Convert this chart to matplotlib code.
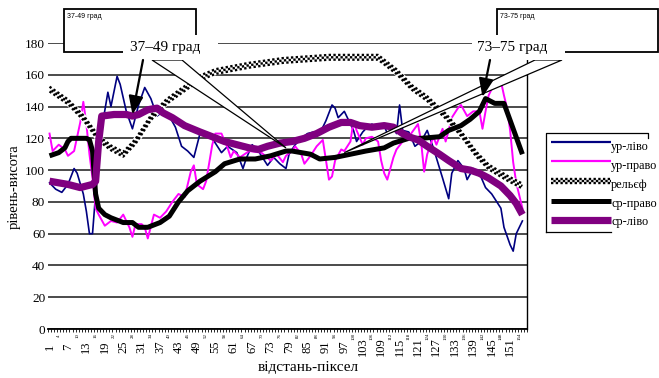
import numpy as np
import matplotlib
matplotlib.use("Agg")
import matplotlib.pyplot as plt
from matplotlib.lines import Line2D
from matplotlib.patches import Polygon, Rectangle, FancyArrowPatch
from matplotlib.transforms import offset_copy, blended_transform_factory

plt.rcParams["font.family"] = ["Liberation Serif", "DejaVu Serif"]
plt.rcParams["lines.scale_dashes"] = False

W, H = 659, 378
N_CAT = 156

# рельєф
relief_x = [1, 7, 12, 17, 21, 25, 29, 34, 39, 44, 50, 55, 66, 77, 92, 108, 114, 119, 124, 130, 135, 140, 144, 150, 155]
relief_y = [151, 143, 133, 120, 114, 110, 118, 133, 143, 150, 158, 162, 166, 169, 171, 171, 162, 152, 145, 134, 123, 110, 102, 95, 90]

# ур-ліво
left_x = [1, 3, 5, 7, 9, 10, 12, 13, 14, 15, 16, 17, 18, 20, 21, 23, 24, 26, 28, 30,
          32, 34, 36, 38, 40, 42, 44, 46, 48, 50, 53, 55, 57, 59, 62, 64, 65, 67, 69, 72,
          74, 76, 78, 79, 81, 83, 85, 87, 89, 91, 93, 94, 95, 97, 98, 100, 101, 103, 104, 106,
          108, 110, 111, 113, 114, 115, 116, 118, 120, 122, 124, 126, 129, 131, 132, 134, 136, 137, 139, 141,
          143, 145, 148, 149, 151, 152, 153, 155]
left_y = [92, 88, 86, 91, 101, 98, 85, 74, 60, 60, 85, 108, 126, 149, 140, 159, 154, 137, 126, 141,
          152, 145, 134, 137, 134, 127, 115, 112, 108, 123, 123, 117, 111, 115, 111, 101, 107, 116, 112, 103,
          108, 104, 101, 110, 116, 120, 123, 124, 123, 131, 141, 139, 133, 137, 133, 125, 118, 124, 126, 129,
          126, 128, 123, 127, 123, 141, 125, 124, 115, 118, 125, 114, 95, 82, 98, 106, 101, 94, 101, 98,
          89, 85, 76, 64, 53, 49, 60, 68]

# ур-право
right_x = [1, 2, 4, 6, 7, 9, 11, 12, 13, 14, 15, 16, 17, 19, 21, 23, 25, 27, 28, 29,
           31, 32, 33, 35, 37, 39, 41, 43, 45, 47, 48, 49, 51, 52, 54, 55, 57, 59, 60, 61,
           63, 66, 70, 73, 75, 77, 78, 80, 81, 83, 84, 86, 88, 90, 92, 93, 94, 96, 97, 99,
           100, 101, 103, 104, 106, 108, 109, 110, 111, 113, 114, 116, 118, 121, 122, 123, 124, 126, 127, 129,
           130, 131, 132, 134, 135, 137, 139, 141, 142, 143, 144, 146, 148, 149, 150, 151, 152, 153, 155]
right_y = [123, 112, 116, 113, 109, 112, 130, 143, 129, 110, 95, 76, 72, 65, 68, 67, 72, 64, 58, 66,
           66, 64, 57, 72, 70, 74, 80, 85, 83, 99, 103, 91, 88, 93, 116, 123, 123, 114, 108, 112,
           108, 112, 111, 106, 110, 105, 109, 112, 115, 110, 104, 109, 115, 119, 94, 96, 106, 113, 112, 118,
           131, 125, 116, 120, 121, 118, 106, 98, 94, 108, 113, 118, 121, 129, 118, 99, 110, 121, 116, 126,
           118, 125, 133, 139, 141, 134, 137, 137, 126, 137, 147, 155, 156, 147, 139, 125, 105, 92, 76]

# ср-право
avg_right_x = [1, 4, 6, 7, 8, 13, 14, 15, 16, 17, 19, 21, 25, 28, 30, 33, 37, 40, 43, 46,
               50, 55, 58, 63, 68, 73, 78, 80, 83, 86, 89, 94, 99, 104, 110, 113, 118, 122, 128, 131,
               135, 138, 141, 143, 146, 149, 155]
avg_right_y = [109, 111, 114, 118, 120, 120, 119, 112, 85, 76, 72, 70, 67, 67, 64, 64, 67, 71, 80, 87,
               93, 99, 104, 107, 107, 109, 112, 112, 111, 110, 107, 108, 110, 112, 114, 117, 120, 120, 121, 125,
               128, 132, 137, 145, 142, 142, 110]

# ср-ліво
avg_left_x = [1, 7, 11, 15, 16, 17, 18, 22, 26, 28, 30, 33, 36, 38, 41, 45, 50, 54, 58, 62,
              66, 69, 72, 76, 80, 84, 88, 92, 96, 99, 102, 106, 110, 113, 116, 118, 121, 124, 128, 131,
              135, 138, 141, 144, 148, 151, 153, 155]
avg_left_y = [93, 91, 89, 91, 93, 118, 134, 135, 135, 134, 135, 138, 139, 136, 133, 128, 124, 121, 118, 116,
              114, 113, 115, 117, 118, 120, 123, 127, 130, 130, 128, 127, 128, 127, 123, 121, 119, 115, 110, 106,
              101, 100, 98, 95, 90, 84, 79, 72]

big_ticks = list(range(1, 152, 6))
small_ticks = list(range(4, 155, 6))


def fp(x, y):
    # pixel position (from top-left) -> figure fraction
    return (x / W, 1 - y / H)


def data_to_fig(ax, x, y):
    disp = ax.transData.transform((x, y))
    return tuple(ax.figure.transFigure.inverted().transform(disp))


def checker_line(fig, x, y, transform, add, cell=1.7, zorder=3):
    # black/white checkered band made of three dashed rows
    add(Line2D(x, y, transform=transform, color="white", lw=3 * cell,
               solid_capstyle="butt", solid_joinstyle="round", zorder=zorder))
    for k, dy in enumerate((-cell, 0, cell)):
        tr = offset_copy(transform, fig=fig, x=0, y=dy, units="points")
        phase = cell if k % 2 else 0
        add(Line2D(x, y, transform=tr, color="black", lw=cell,
                   linestyle=(phase, (cell, cell)), dash_capstyle="butt", zorder=zorder))


fig = plt.figure(figsize=(W / 100, H / 100), dpi=100)
ax = fig.add_axes([48 / W, 1 - 329 / H, 479 / W, 286 / H])
ax.set_xlim(0.5, N_CAT + 0.5)
ax.set_ylim(0, 180)

ax.set_yticks(range(0, 181, 20))
ax.yaxis.grid(True, color="#1a1a1a", lw=1.1)
ax.set_axisbelow(True)
ax.tick_params(axis="y", length=0, pad=2, labelsize=9.5)
ax.spines["left"].set_visible(False)
ax.spines["top"].set_visible(False)
ax.spines["right"].set_linewidth(1.0)
ax.spines["bottom"].set_linewidth(1.3)

ax.set_xticks([])
ax.set_xticks(np.arange(0.5, N_CAT + 1, 1.0), minor=True)
ax.tick_params(axis="x", which="minor", length=2.5, width=0.6, direction="out")

lab_tr = blended_transform_factory(ax.transData, fig.transFigure)
for t in big_ticks:
    ax.text(t, 1 - 347 / H, str(t), transform=lab_tr, rotation=90,
            ha="center", va="center", fontsize=9, clip_on=False)
for t in small_ticks:
    ax.text(t, 1 - 336 / H, str(t), transform=lab_tr, rotation=90,
            ha="center", va="center", fontsize=3.5, clip_on=False)

ax.plot(left_x, left_y, color="#000080", lw=1.2, zorder=3)
ax.plot(right_x, right_y, color="#ff00ff", lw=1.4, zorder=3.1)
checker_line(fig, relief_x, relief_y, ax.transData, ax.add_line, zorder=3.2)
ax.plot(avg_right_x, avg_right_y, color="black", lw=3.6, zorder=3.3,
        solid_capstyle="butt", solid_joinstyle="round")
ax.plot(avg_left_x, avg_left_y, color="#800080", lw=5.2, zorder=3.4,
        solid_capstyle="butt", solid_joinstyle="round")

ft = fig.transFigure

# small framed boxes along the top
for (x0, x1, txt) in [(64, 196, "37-49 град"), (497, 658, "73-75 град")]:
    fig.add_artist(Rectangle(fp(x0, 52), (x1 - x0) / W, 43 / H, transform=ft,
                             facecolor="white", edgecolor="black", lw=1.3, zorder=5))
    fig.text(*fp(x0 + 3, 17), txt, fontsize=5, family="Liberation Sans",
             ha="left", va="center", zorder=6)

# callout tails
wedges = [((152, 60), (182, 60), (78, 114)),
          ((535, 60), (562, 60), (97, 111))]
for a, b, tip in wedges:
    pts = [fp(*a), fp(*b), data_to_fig(ax, *tip)]
    fig.add_artist(Polygon(pts, closed=True, transform=ft, facecolor="white",
                           edgecolor="black", lw=0.9, zorder=6))

# callout labels
for (x0, x1, cx, txt) in [(123, 218, 165, "37–49 град"), (472, 565, 512, "73–75 град")]:
    fig.add_artist(Rectangle(fp(x0, 60), (x1 - x0) / W, 25 / H, transform=ft,
                             facecolor="white", edgecolor="none", zorder=7))
    fig.text(*fp(cx, 47), txt, fontsize=11, ha="center", va="center", zorder=8)

# arrows from the labels
for start, tip in [((143, 60), (28, 135)), ((490, 60), (142, 146))]:
    fig.add_artist(FancyArrowPatch(fp(*start), data_to_fig(ax, *tip), transform=ft,
                                   arrowstyle="-|>,head_length=0.55,head_width=0.22",
                                   mutation_scale=20, lw=1.6, color="black",
                                   shrinkA=0, shrinkB=0, zorder=9))

# legend
fig.add_artist(Line2D([546 / W, 546 / W, 648 / W, 648 / W], [1 - 232 / H, 1 - 133 / H, 1 - 133 / H, 1 - 138 / H],
                      transform=ft, color="black", lw=0.9, zorder=5))
fig.add_artist(Line2D([546 / W, 611 / W], [1 - 232 / H, 1 - 232 / H], transform=ft,
                      color="black", lw=0.9, zorder=5))
entries = [("ур-ліво", 142, 147), ("ур-право", 161, 166), ("рельєф", 181, 185),
           ("ср-право", 201, 204), ("ср-ліво", 220, 222)]
handle_x = [551 / W, 611 / W]
styles = {"ур-ліво": ("#000080", 1.6), "ур-право": ("#ff00ff", 1.6),
          "ср-право": ("black", 3.6), "ср-ліво": ("#800080", 5.2)}
for name, ly, ty in entries:
    yy = [1 - ly / H] * 2
    if name == "рельєф":
        checker_line(fig, handle_x, yy, ft, fig.add_artist, zorder=6)
    else:
        c, w = styles[name]
        fig.add_artist(Line2D(handle_x, yy, transform=ft, color=c, lw=w,
                              solid_capstyle="butt", zorder=6))
    fig.text(*fp(611, ty), name, fontsize=8.8, ha="left", va="center", zorder=7)

fig.text(*fp(14, 187), "рівень-висота", rotation=90, fontsize=10.5, ha="center", va="center")
fig.text(*fp(308, 367), "відстань-піксел", fontsize=11, ha="center", va="center")

fig.savefig("out.png", dpi=100)
